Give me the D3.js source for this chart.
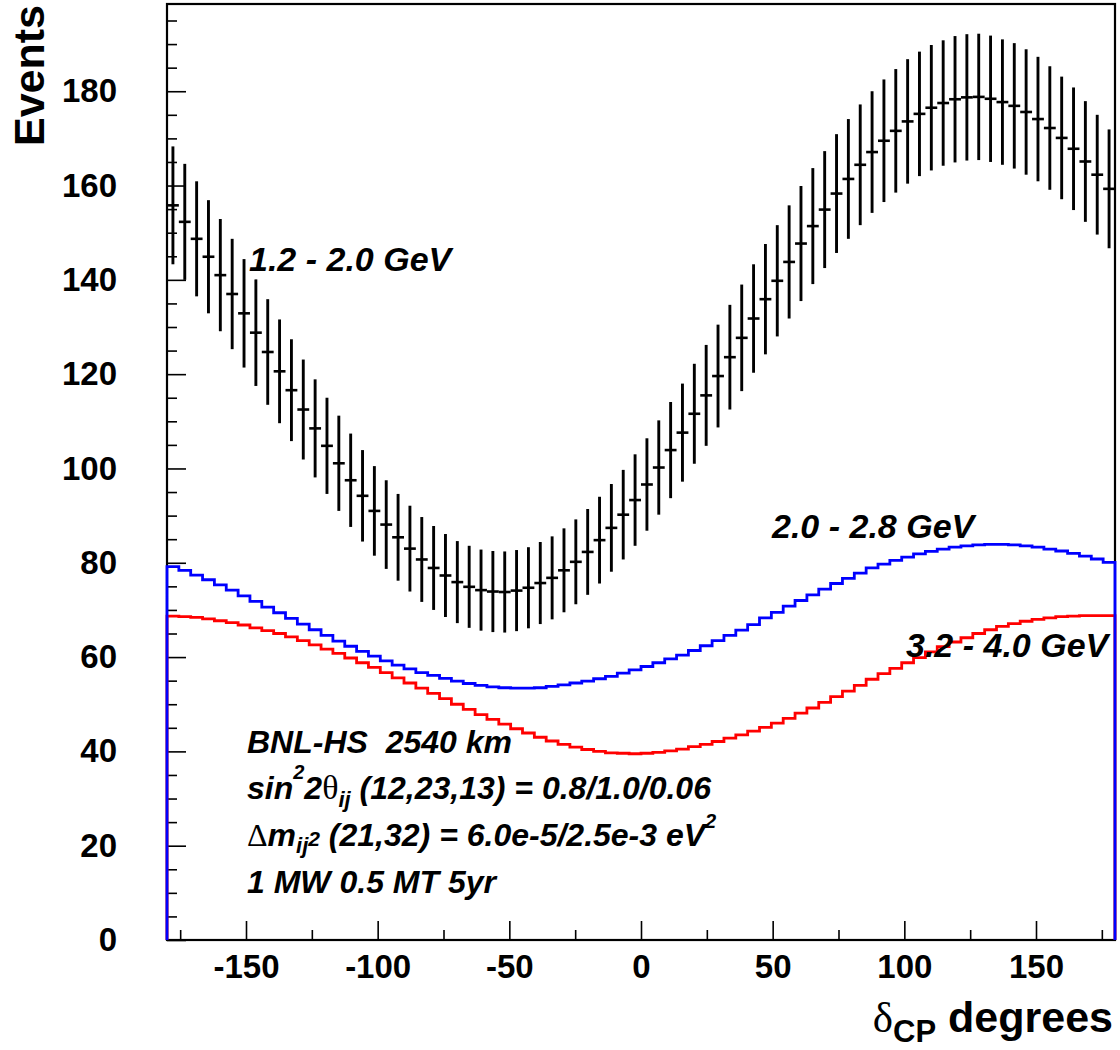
<!DOCTYPE html>
<html>
<head>
<meta charset="utf-8">
<script src="https://cdn.jsdelivr.net/npm/d3@7"></script>
<style>
  html, body { margin: 0; padding: 0; background: #fff; }
  svg { display: block; }
  text { font-family: "Liberation Sans", Arial, Helvetica, sans-serif; white-space: pre; }
</style>
</head>
<body>
<svg id="chart" width="1120" height="1050"></svg>
<script>
// ---- data ----
const xDomain = [-180, 180];
const yDomain = [0, 198.5];
const nBins = 80;
const yMajorTicks = [0, 20, 40, 60, 80, 100, 120, 140, 160, 180];
const xMajorTicks = [-150, -100, -50, 0, 50, 100, 150];

// 1.2 - 2.0 GeV (points with error bars)
const low = [
  155.8,152.3,148.7,144.9,141.0,137.0,132.9,128.8,124.7,120.6,
  116.6,112.5,108.5,104.8,101.1,97.5,94.2,91.0,88.1,85.4,
  83.0,80.7,78.9,77.3,75.9,74.9,74.2,73.9,73.8,74.1,
  74.7,75.7,76.8,78.4,80.2,82.3,84.8,87.4,90.2,93.3,
  96.6,100.2,103.9,107.6,111.6,115.5,119.6,123.6,127.7,131.8,
  135.9,139.8,143.8,147.7,151.4,154.9,158.3,161.4,164.4,167.1,
  169.5,171.6,173.6,175.2,176.5,177.5,178.3,178.7,178.8,178.4,
  177.7,176.9,175.6,174.1,172.2,170.1,167.8,165.1,162.3,159.3
];
const lowErr = [
  12.5,12.3,12.2,12.0,11.9,11.7,11.5,11.3,11.2,11.0,
  10.8,10.6,10.4,10.2,10.1,9.9,9.7,9.5,9.4,9.2,
  9.1,9.0,8.9,8.8,8.7,8.7,8.6,8.6,8.6,8.6,
  8.6,8.7,8.8,8.9,9.0,9.1,9.2,9.3,9.5,9.7,
  9.8,10.0,10.2,10.4,10.6,10.7,10.9,11.1,11.3,11.5,
  11.7,11.8,12.0,12.2,12.3,12.4,12.6,12.7,12.8,12.9,
  13.0,13.1,13.2,13.2,13.3,13.3,13.4,13.4,13.4,13.4,
  13.3,13.3,13.3,13.2,13.1,13.0,13.0,12.8,12.7,12.6
];
// 2.0 - 2.8 GeV (blue)
const mid = [
  79.2,78.4,77.4,76.4,75.3,74.2,73.0,71.8,70.6,69.4,
  68.2,67.0,65.8,64.6,63.4,62.3,61.2,60.2,59.2,58.3,
  57.5,56.7,56.1,55.5,54.9,54.4,54.0,53.7,53.5,53.4,
  53.4,53.5,53.8,54.1,54.5,54.9,55.4,55.9,56.6,57.3,
  58.0,58.8,59.6,60.4,61.4,62.4,63.5,64.6,65.7,66.9,
  68.3,69.5,70.8,72.0,73.2,74.4,75.6,76.7,77.8,78.9,
  79.7,80.5,81.2,81.9,82.4,82.9,83.3,83.6,83.8,83.9,
  83.9,83.8,83.6,83.3,82.9,82.5,82.0,81.4,80.8,80.1
];
// 3.2 - 4.0 GeV (red)
const high = [
  68.7,68.6,68.4,68.1,67.7,67.3,66.8,66.2,65.6,65.0,
  64.3,63.5,62.6,61.7,60.8,59.8,58.8,57.8,56.7,55.6,
  54.5,53.4,52.3,51.2,50.0,48.9,47.8,46.8,45.8,44.8,
  43.9,43.0,42.2,41.5,40.9,40.4,40.0,39.7,39.6,39.5,
  39.6,39.8,40.1,40.5,41.0,41.5,42.1,42.8,43.5,44.3,
  45.1,46.0,47.0,48.1,49.2,50.4,51.6,52.8,54.0,55.3,
  56.5,57.6,58.8,59.9,61.1,62.2,63.2,64.1,65.0,65.8,
  66.5,67.1,67.6,68.0,68.3,68.6,68.7,68.8,68.8,68.8
];

// ---- layout ----
const svg = d3.select("#chart");
const L = 167, R = 1115, T = 4, B = 940;
const x = d3.scaleLinear().domain(xDomain).range([L, R]);
const y = d3.scaleLinear().domain(yDomain).range([B, T]);
const binW = (xDomain[1] - xDomain[0]) / nBins;
const edges = d3.range(nBins + 1).map(i => xDomain[0] + i * binW);

svg.append("rect").attr("width", 1120).attr("height", 1050).attr("fill", "#fff");

// frame
svg.append("rect").attr("x", L).attr("y", T).attr("width", R - L).attr("height", B - T)
  .attr("fill", "none").attr("stroke", "#000").attr("stroke-width", 2.2);

// axes
const yMinor = d3.range(0, 198, 5).filter(v => v % 20 !== 0);
const xMinor = d3.range(-175, 180, 50);

svg.append("g").attr("transform", `translate(${L},0)`)
  .call(d3.axisLeft(y).tickValues(yMajorTicks).tickSize(-19).tickPadding(50).tickFormat(d3.format("d")));
svg.append("g").attr("transform", `translate(${L},0)`)
  .call(d3.axisLeft(y).tickValues(yMinor).tickSize(-10).tickFormat(""));
const xAx = svg.append("g").attr("transform", `translate(0,${B})`)
  .call(d3.axisBottom(x).tickValues(xMajorTicks).tickSize(-19).tickPadding(15).tickFormat(d3.format("d")));
svg.append("g").attr("transform", `translate(0,${B})`)
  .call(d3.axisBottom(x).tickValues(xMinor).tickSize(-10).tickFormat(""));
svg.selectAll(".domain").remove();
svg.selectAll(".tick line").attr("stroke", "#000").attr("stroke-width", 1.6);
svg.selectAll(".tick text").attr("font-family", "Liberation Sans, Arial, sans-serif")
  .attr("font-weight", "bold").attr("font-size", 33).attr("fill", "#000");
xAx.selectAll(".tick text").text(d => d < 0 ? "-" + Math.abs(d) : d);

// step histograms
function stepPoints(vals) {
  const pts = [[edges[0], 0]];
  vals.forEach((v, i) => { pts.push([edges[i], v]); pts.push([edges[i + 1], v]); });
  pts.push([edges[nBins], 0]);
  return pts;
}
const line = d3.line().x(d => x(d[0])).y(d => y(d[1]));
svg.append("path").attr("d", line(stepPoints(high))).attr("fill", "none")
  .attr("stroke", "#ff0000").attr("stroke-width", 2.8);
svg.append("path").attr("d", line(stepPoints(mid))).attr("fill", "none")
  .attr("stroke", "#0000ff").attr("stroke-width", 2.8);

// points with error bars
const g = svg.append("g");
low.forEach((v, i) => {
  const xc = x(edges[i] + binW / 2);
  g.append("line").attr("x1", xc).attr("x2", xc)
    .attr("y1", y(v + lowErr[i])).attr("y2", y(v - lowErr[i]))
    .attr("stroke", "#000").attr("stroke-width", 2.9);
  g.append("line").attr("x1", x(edges[i])).attr("x2", x(edges[i + 1]))
    .attr("y1", y(v)).attr("y2", y(v))
    .attr("stroke", "#000").attr("stroke-width", 2.6);
});

// titles
svg.append("text").attr("transform", "translate(44,5) rotate(-90)")
  .attr("text-anchor", "end").attr("font-weight", "bold").attr("font-size", 43).text("Events");

const xt = svg.append("text").attr("x", 1113).attr("y", 1032).attr("text-anchor", "end")
  .attr("font-weight", "bold").attr("font-size", 43);
xt.append("tspan").attr("font-family", "Liberation Serif, Times New Roman, serif").attr("font-weight", "normal").text("δ");
xt.append("tspan").attr("dy", 10).attr("font-size", 31).text("CP");
xt.append("tspan").attr("dy", -10).text(" degrees");

// curve labels
function label(txt, xp, yp) {
  svg.append("text").attr("x", xp).attr("y", yp).attr("font-weight", "bold")
    .attr("font-style", "italic").attr("font-size", 34).text(txt);
}
label("1.2 - 2.0 GeV", 249, 271);
label("2.0 - 2.8 GeV", 772, 538);
label("3.2 - 4.0 GeV", 906, 657);

// info block
const serif = "Liberation Serif, Times New Roman, serif";
function infoLine(yp) {
  return svg.append("text").attr("x", 247).attr("y", yp).attr("font-weight", "bold")
    .attr("font-style", "italic").attr("font-size", 32);
}
infoLine(753).text("BNL-HS  2540 km");
const l2 = infoLine(799);
l2.append("tspan").text("sin");
l2.append("tspan").attr("dy", -20).attr("font-size", 20).text("2");
l2.append("tspan").attr("dy", 20).text("2");
l2.append("tspan").attr("font-family", serif).attr("font-style", "normal").attr("font-weight", "normal").attr("font-size", 34).text("θ");
l2.append("tspan").attr("dy", 8).attr("font-size", 22).text("ij");
l2.append("tspan").attr("dy", -8).text(" (12,23,13) = 0.8/1.0/0.06");
const l3 = infoLine(846);
l3.append("tspan").attr("font-family", serif).attr("font-style", "normal").attr("font-weight", "normal").attr("font-size", 32).text("Δ");
l3.append("tspan").text("m");
l3.append("tspan").attr("dy", 7).attr("font-size", 22).text("ij");
l3.append("tspan").attr("dy", -7).attr("font-size", 21).text("2");
l3.append("tspan").text(" (21,32) = 6.0e-5/2.5e-3 eV");
l3.append("tspan").attr("dy", -18).attr("font-size", 20).text("2");
infoLine(893).text("1 MW 0.5 MT 5yr");
</script>
</body>
</html>
